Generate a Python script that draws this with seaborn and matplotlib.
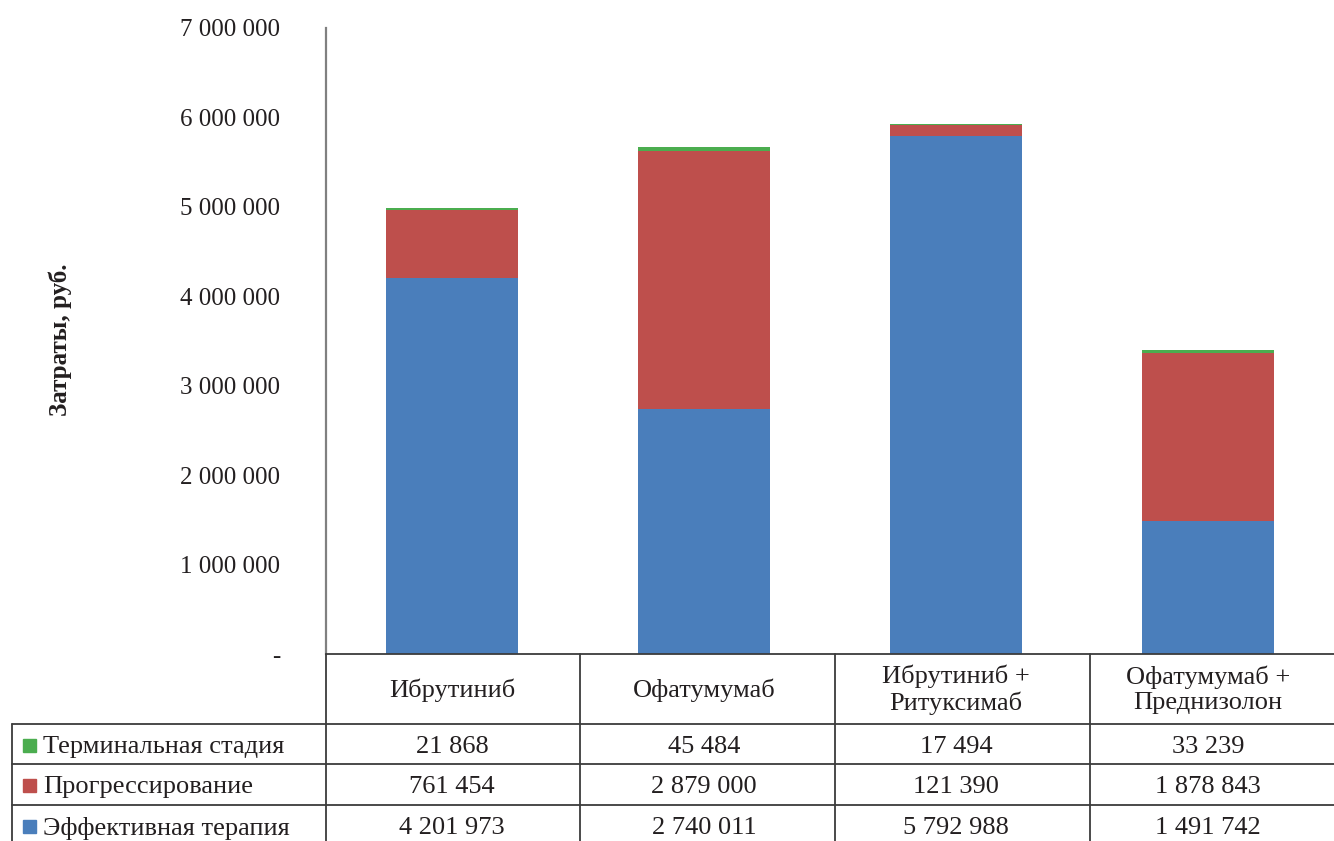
import matplotlib
matplotlib.use("Agg")
import matplotlib.pyplot as plt
import matplotlib.transforms as mtransforms
from matplotlib.lines import Line2D
from matplotlib.patches import Rectangle
import seaborn as sns
import pandas as pd

# Data (values as printed in the data table)
categories = ['Ибрутиниб', 'Офатумумаб', 'Ибрутиниб +\nРитуксимаб', 'Офатумумаб +\nПреднизолон']
effective = [4201973, 2740011, 5792988, 1491742]
progression = [761454, 2879000, 121390, 1878843]
terminal = [21868, 45484, 17494, 33239]
series_names = ['Терминальная стадия', 'Прогрессирование', 'Эффективная терапия']
y_ticks = [0, 1000000, 2000000, 3000000, 4000000, 5000000, 6000000, 7000000]

colors = {'Эффективная терапия': '#4A7EBB',
          'Прогрессирование': '#BE4F4C',
          'Терминальная стадия': '#4BAD4F'}

df = pd.DataFrame({'cat': categories, 'eff': effective, 'prog': progression, 'term': terminal})
df['c1'] = df['eff']
df['c2'] = df['eff'] + df['prog']
df['c3'] = df['c2'] + df['term']

sns.set_style('white')
plt.rcParams['font.family'] = ['Liberation Serif', 'DejaVu Serif']
plt.rcParams['text.color'] = '#231F20'

W, H = 1334, 841
fig = plt.figure(figsize=(W / 100, H / 100), dpi=100)
ax = fig.add_axes([326 / W, 1 - 654 / H, 1008 / W, 626 / H])

# stacked bars drawn as overlapping cumulative totals
bar_kw = dict(saturation=1, width=0.52, linewidth=0, ax=ax)
sns.barplot(data=df, x='cat', y='c3', color=colors['Терминальная стадия'], **bar_kw)
sns.barplot(data=df, x='cat', y='c2', color=colors['Прогрессирование'], **bar_kw)
sns.barplot(data=df, x='cat', y='c1', color=colors['Эффективная терапия'], **bar_kw)

ax.set_xlim(-0.5, 3.5)
ax.set_ylim(0, 7000000)
ax.set_yticks(y_ticks)
ax.set_yticklabels(['-' if v == 0 else f'{v:,}'.replace(',', ' ') for v in y_ticks], fontsize=18)
ax.tick_params(axis='y', length=0, pad=33, colors='#231F20')
ax.set_xticks([])
ax.set_xlabel('')
ax.set_ylabel('')
for s in ['top', 'right', 'bottom']:
    ax.spines[s].set_visible(False)
ax.spines['left'].set_color('#808080')
ax.spines['left'].set_linewidth(1.6)

# data table below the axis
def fx(x):
    return x / W

def fy(y):
    return 1 - y / H

fig.text(fx(60), fy(340), 'Затраты, руб.', rotation=90, ha='center', va='center',
         fontsize=18, fontweight='bold')

line_kw = dict(color='#3C3C3C', linewidth=1.3, transform=fig.transFigure)
for y, x0 in [(654, 326), (724, 12), (764, 12), (805, 12)]:
    fig.add_artist(Line2D([fx(x0), fx(W)], [fy(y), fy(y)], **line_kw))
for x in [326, 580, 835, 1090]:
    fig.add_artist(Line2D([fx(x), fx(x)], [fy(654), fy(H)], **line_kw))
fig.add_artist(Line2D([fx(12), fx(12)], [fy(724), fy(H)], **line_kw))

blend = mtransforms.blended_transform_factory(ax.transData, fig.transFigure)
for i, cat in enumerate(categories):
    fig.text(i, fy(690), cat, transform=blend, ha='center', va='center', fontsize=19, linespacing=1.2)

rows = [('Терминальная стадия', terminal, 747),
        ('Прогрессирование', progression, 787),
        ('Эффективная терапия', effective, 828)]
for name, vals, yc in rows:
    fig.add_artist(Rectangle((fx(23), fy(yc + 5)), 13 / W, 13 / H,
                             transform=fig.transFigure, color=colors[name]))
    fig.text(fx(43), fy(yc), name, ha='left', va='center', fontsize=19)
    for i, v in enumerate(vals):
        fig.text(i, fy(yc), f'{v:,}'.replace(',', ' '), transform=blend,
                 ha='center', va='center', fontsize=19)

fig.savefig('out.png', dpi=100)
